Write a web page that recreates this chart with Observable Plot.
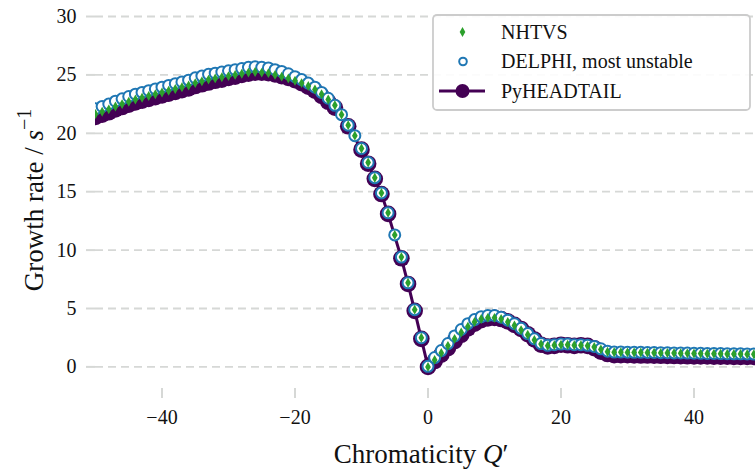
<!DOCTYPE html>
<html>
<head>
<meta charset="utf-8">
<script src="https://cdn.jsdelivr.net/npm/d3@7"></script>
<script src="https://cdn.jsdelivr.net/npm/@observablehq/plot@0.6"></script>
<style>
  html, body { margin: 0; padding: 0; background: #fff; }
  svg { display: block; }
</style>
</head>
<body>
<div id="chart"></div>
<script>
// ---- Data ----
const chroma = [
  -50,-49,-48,-47,-46,-45,-44,-43,-42,-41,
  -40,-39,-38,-37,-36,-35,-34,-33,-32,-31,
  -30,-29,-28,-27,-26,-25,-24,-23,-22,-21,
  -20,-19,-18,-17,-16,-15,-14,-13,-12,-11,
  -10,-9,-8,-7,-6,-5,-4,-3,-2,-1,
  0,1,2,3,4,5,6,7,8,9,
  10,11,12,13,14,15,16,17,18,19,
  20,21,22,23,24,25,26,27,28,29,
  30,31,32,33,34,35,36,37,38,39,
  40,41,42,43,44,45,46,47,48,49
];
const delphi = [
  22.1,22.3,22.5,22.75,22.95,23.15,23.35,23.5,23.65,23.8,
  23.95,24.1,24.25,24.4,24.55,24.75,24.9,25.05,25.15,25.25,
  25.35,25.45,25.55,25.65,25.7,25.65,25.6,25.45,25.3,25.1,
  24.85,24.6,24.3,23.95,23.5,23.0,22.4,21.6,20.7,19.8,
  18.7,17.5,16.2,14.9,13.2,11.3,9.4,7.2,4.9,2.5,
  0.05,0.8,1.4,2.0,2.65,3.2,3.7,4.05,4.3,4.4,
  4.4,4.25,4.0,3.7,3.3,2.85,2.4,2.0,1.85,1.9,
  1.95,1.95,1.9,1.9,1.85,1.75,1.55,1.35,1.27,1.27,
  1.26,1.25,1.25,1.24,1.23,1.22,1.21,1.2,1.19,1.18,
  1.17,1.16,1.15,1.15,1.14,1.13,1.12,1.12,1.11,1.1
];
const nhtvs = [
  21.65,21.85,22.05,22.3,22.5,22.7,22.9,23.05,23.2,23.35,
  23.5,23.65,23.8,23.95,24.1,24.3,24.45,24.6,24.7,24.8,
  24.9,25.0,25.1,25.2,25.25,25.2,25.15,25.0,24.85,24.7,
  24.5,24.3,24.05,23.75,23.35,22.9,22.4,21.6,20.7,19.8,
  18.7,17.5,16.2,14.9,13.2,11.3,9.4,7.2,4.9,2.5,
  0.0,0.6,1.2,1.8,2.4,2.95,3.45,3.85,4.1,4.2,
  4.2,4.1,3.85,3.55,3.15,2.75,2.3,1.95,1.8,1.85,
  1.9,1.9,1.85,1.85,1.8,1.7,1.5,1.3,1.25,1.25,
  1.24,1.23,1.23,1.22,1.21,1.2,1.19,1.18,1.17,1.16,
  1.15,1.14,1.13,1.13,1.12,1.11,1.1,1.1,1.09,1.08
];
const pyhtChroma = [
  -50,-49,-48,-47,-46,-45,-44,-43,-42,-41,
  -40,-39,-38,-37,-36,-35,-34,-33,-32,-31,
  -30,-29,-28,-27,-26,-25,-24,-23,-22,-21,
  -20,-19,-18,-17,-16,-15,-14,-12,
  -10,-9,-8,-7,-6,-4,-3,-2,-1,
  0,1,2,3,4,5,6,7,8,9,
  10,11,12,13,14,15,16,17,18,19,
  20,21,22,23,24,25,26,27,28,29,
  30,31,32,33,34,35,36,37,38,39,
  40,41,42,43,44,45,46,47,48,49
];
const pyheadtail = [
  21.4,21.6,21.8,22.05,22.25,22.45,22.65,22.8,22.95,23.1,
  23.25,23.4,23.55,23.7,23.85,24.05,24.2,24.35,24.5,24.6,
  24.75,24.85,25.0,25.1,25.2,25.2,25.15,25.05,24.9,24.75,
  24.55,24.3,24.0,23.65,23.2,22.7,22.2,20.6,
  18.6,17.4,16.1,14.8,13.1,9.3,7.1,4.8,2.4,
  0.0,0.5,1.05,1.6,2.2,2.75,3.3,3.7,4.0,4.15,
  4.2,4.1,3.9,3.6,3.25,2.8,2.35,1.9,1.75,1.8,
  1.9,1.85,1.8,1.85,1.8,1.6,1.3,1.1,1.0,1.0,
  1.0,0.98,0.97,0.97,0.96,0.95,0.94,0.93,0.92,0.91,
  0.9,0.9,0.89,0.88,0.88,0.87,0.86,0.86,0.85,0.85
];
const xTicks = [-40, -20, 0, 20, 40];
const yTicks = [0, 5, 10, 15, 20, 25, 30];
const seriesNames = ["NHTVS", "DELPHI, most unstable", "PyHEADTAIL"];

// ---- Build tables ----
const delphiData = chroma.map((q, i) => ({q, v: delphi[i]}));
const nhtvsData = chroma.map((q, i) => ({q, v: nhtvs[i]}));
const pyData = pyhtChroma.map((q, i) => ({q, v: pyheadtail[i]}));

const PURPLE = "#440154", BLUE = "#1f77b4", GREEN = "#2ca02c";
const GRID = "#d6d8d6";
const FONT = "'Liberation Serif', 'DejaVu Serif', serif";
const fmt = d => d < 0 ? "\u2212" + Math.abs(d) : String(d);

const svg = Plot.plot({
  width: 755,
  height: 475,
  marginLeft: 95,
  marginRight: 0,
  marginTop: 11,
  marginBottom: 87,
  style: {fontFamily: FONT, fontSize: "20px", background: "#fff", overflow: "visible"},
  x: {domain: [-50, 49.25]},
  y: {domain: [-1.85, 30.43]},
  marks: [
    Plot.ruleY(yTicks, {stroke: GRID, strokeWidth: 1.8, strokeDasharray: "8,5"}),
    Plot.axisX(xTicks, {tickSize: 10, tickPadding: 11, stroke: GRID, strokeWidth: 2, fill: "#111", tickFormat: fmt, label: null}),
    Plot.axisY(yTicks, {tickSize: 9, tickPadding: 10, stroke: GRID, strokeWidth: 2, fill: "#111", tickFormat: fmt, label: null}),
    Plot.line(pyData, {x: "q", y: "v", stroke: PURPLE, strokeWidth: 3, clip: true}),
    Plot.dot(pyData, {x: "q", y: "v", r: 8.3, fill: PURPLE, stroke: "none", clip: true}),
    Plot.dot(delphiData, {x: "q", y: "v", r: 5.5, fill: "#fff", stroke: BLUE, strokeWidth: 2, clip: true}),
    Plot.dot(nhtvsData, {x: "q", y: "v", r: 3, symbol: "diamond", fill: GREEN, stroke: "none", clip: true})
  ]
});

const s = d3.select(svg);

// Axis labels
const xl = s.append("text")
  .attr("x", 421).attr("y", 463)
  .attr("text-anchor", "middle")
  .style("font-family", FONT).style("font-size", "27px").attr("fill", "#111");
xl.append("tspan").text("Chromaticity ");
xl.append("tspan").style("font-style", "italic").text("Q");
xl.append("tspan").text("\u2032");

const yl = s.append("text")
  .attr("transform", "translate(43,200) rotate(-90)")
  .attr("text-anchor", "middle")
  .style("font-family", FONT).style("font-size", "27px").attr("fill", "#111");
yl.append("tspan").text("Growth rate / ");
yl.append("tspan").style("font-style", "italic").text("s");
yl.append("tspan").attr("dy", -12).style("font-size", "20px").text("\u22121");

// Legend
const lg = s.append("g").attr("text-anchor", "start");
lg.append("rect")
  .attr("x", 433).attr("y", 15).attr("width", 317).attr("height", 95)
  .attr("rx", 4).attr("fill", "#fff").attr("fill-opacity", 0.9)
  .attr("stroke", "#cccccc").attr("stroke-width", 1.8);
const rows = [32, 61.5, 91];
// NHTVS marker
lg.append("path")
  .attr("d", d3.symbol(d3.symbolDiamond, 28)())
  .attr("transform", `translate(462.5,${rows[0]})`)
  .attr("fill", GREEN);
// DELPHI marker
lg.append("circle").attr("cx", 463).attr("cy", rows[1]).attr("r", 3.8)
  .attr("fill", "#fff").attr("stroke", BLUE).attr("stroke-width", 2);
// PyHEADTAIL marker
lg.append("line").attr("x1", 439).attr("x2", 485).attr("y1", rows[2]).attr("y2", rows[2])
  .attr("stroke", PURPLE).attr("stroke-width", 3);
lg.append("circle").attr("cx", 462.5).attr("cy", rows[2]).attr("r", 7)
  .attr("fill", PURPLE);
seriesNames.forEach((name, i) => {
  lg.append("text")
    .attr("x", 501).attr("y", rows[i] + 6.5)
    .attr("text-anchor", "start")
    .style("font-family", FONT).style("font-size", "20px").attr("fill", "#111")
    .text(name);
});

document.getElementById("chart").appendChild(svg);
</script>
</body>
</html>
